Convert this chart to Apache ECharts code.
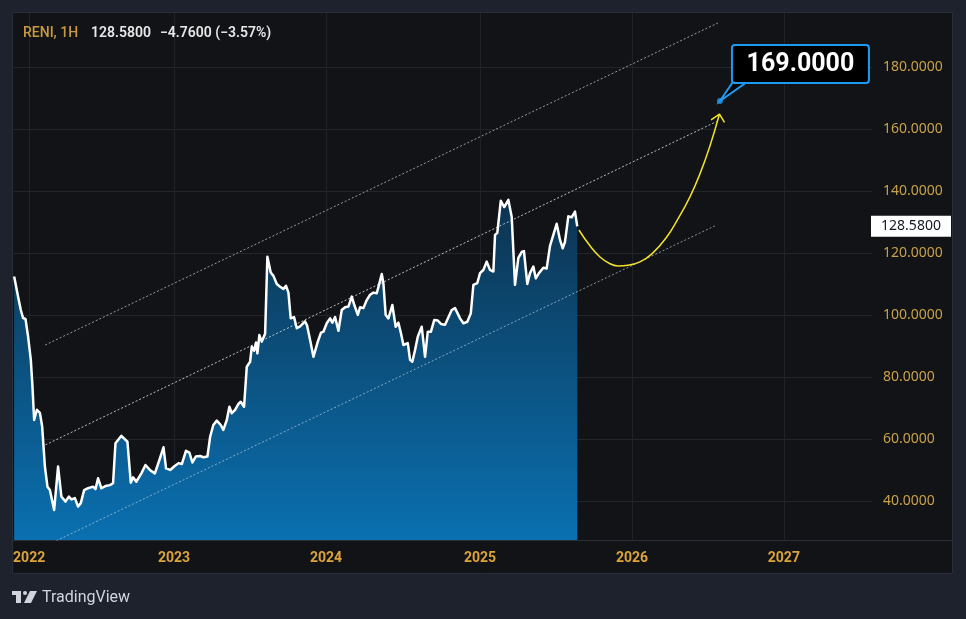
<!DOCTYPE html>
<html><head><meta charset="utf-8">
<script src="https://cdn.jsdelivr.net/npm/echarts@6/dist/echarts.min.js"></script>
<style>html,body{margin:0;padding:0;background:#1e222d;}#c{width:966px;height:619px;}</style>
</head><body><div id="c"></div><script>
// ---- data (x = decimal position on the time scale, y = price) ----
const dates = [2021.901,2021.927,2021.945,2021.960,2021.976,2021.993,2022.011,2022.022,2022.033,2022.051,
2022.071,2022.086,2022.104,2022.121,2022.137,2022.147,2022.165,2022.191,2022.213,2022.240,
2022.262,2022.279,2022.302,2022.323,2022.341,2022.363,2022.389,2022.422,2022.438,2022.455,
2022.477,2022.504,2022.533,2022.554,2022.570,2022.609,2022.649,2022.671,2022.686,2022.708,
2022.741,2022.768,2022.797,2022.830,2022.860,2022.887,2022.904,2022.931,2022.957,2022.986,
2023.008,2023.036,2023.058,2023.078,2023.100,2023.129,2023.150,2023.177,2023.195,2023.216,
2023.239,2023.265,2023.282,2023.305,2023.322,2023.338,2023.360,2023.382,2023.397,2023.419,
2023.437,2023.459,2023.470,2023.485,2023.498,2023.507,2023.520,2023.536,2023.558,2023.573,
2023.595,2023.613,2023.635,2023.657,2023.679,2023.696,2023.712,2023.727,2023.749,2023.767,
2023.789,2023.822,2023.835,2023.855,2023.877,2023.888,2023.906,2023.927,2023.943,2023.965,
2023.987,2024.002,2024.020,2024.042,2024.064,2024.086,2024.108,2024.130,2024.147,2024.170,
2024.185,2024.207,2024.229,2024.251,2024.273,2024.295,2024.310,2024.328,2024.339,2024.354,
2024.372,2024.398,2024.420,2024.438,2024.455,2024.471,2024.482,2024.500,2024.515,2024.530,
2024.548,2024.566,2024.592,2024.614,2024.632,2024.653,2024.675,2024.698,2024.719,2024.746,
2024.790,2024.812,2024.845,2024.867,2024.893,2024.916,2024.933,2024.959,2024.977,2024.999,
2025.021,2025.043,2025.065,2025.076,2025.091,2025.114,2025.137,2025.164,2025.186,2025.208,
2025.230,2025.252,2025.267,2025.289,2025.307,2025.329,2025.345,2025.366,2025.395,2025.417,
2025.439,2025.461,2025.483,2025.505,2025.523,2025.538,2025.560,2025.582,2025.604,2025.619];
const prices = [112.4,105.9,101.6,99.0,98.7,93.0,85.5,76.9,66.1,69.4,
68.4,64.0,51.1,44.6,43.5,43.9,37.1,51.1,41.4,39.8,
41.4,40.5,40.9,38.2,39.3,43.5,44.1,44.6,43.8,47.3,
44.1,44.8,45.1,45.7,58.6,61.0,59.1,45.9,47.6,46.2,
48.9,51.6,50.0,48.9,53.2,57.3,50.5,50.0,51.1,52.2,
51.9,56.2,55.6,52.4,54.3,54.5,54.1,54.3,60.7,64.5,
65.9,64.5,62.9,66.1,70.4,68.3,69.4,71.3,72.0,70.4,
83.3,84.9,89.8,88.5,91.1,87.6,93.5,91.4,93.9,118.8,
113.7,112.6,110.0,109.1,108.4,109.4,107.2,98.9,99.3,95.7,
96.3,97.9,96.6,91.9,86.5,86.0,91.4,94.3,94.6,97.3,
98.9,97.5,99.3,94.9,101.6,102.5,102.7,105.9,103.2,100.0,
102.5,102.2,104.8,106.5,107.2,107.0,109.7,113.2,110.2,100.0,
98.9,103.2,96.2,97.5,94.1,90.3,90.0,90.9,85.5,84.9,
88.7,93.0,96.2,86.5,94.6,94.6,98.4,98.2,97.1,96.8,
101.6,102.2,98.9,97.3,97.8,100.5,109.7,110.3,113.5,114.5,
117.2,114.5,114.0,125.8,126.5,136.8,134.8,137.1,131.7,109.7,
118.4,120.3,120.6,110.0,113.5,115.6,111.8,113.5,115.2,115.0,
122.3,125.8,129.4,124.2,121.5,123.6,131.8,131.5,133.34,128.58];
const yearLabels = ['2022', '2023', '2024', '2025', '2026', '2027'];
const yearTickPositions = [2022.0, 2022.957, 2023.960, 2024.977, 2025.980, 2026.983];
const priceTicks = [40, 60, 80, 100, 120, 140, 160, 180];
const channelTopX = [2022.106, 2026.548], channelTopY = [90.3, 194.2];
const channelMidX = [2022.108, 2026.539], channelMidY = [58.1, 162.4];
const channelLowX = [2022.108, 2026.539], channelLowY = [25.5, 129.0];
const forecastX = [2025.630,2025.703,2025.769,2025.835,2025.888,2025.954,2026.033,2026.112,2026.205,2026.284,2026.363,2026.429,2026.495,2026.558];
const forecastY = [127.4,122.3,118.7,116.5,115.8,116.0,117.1,119.7,124.8,131.0,138.1,145.5,154.5,164.8];
const arrowX = [2026.502, 2026.558, 2026.591], arrowY = [162.9, 164.8, 162.1];
const targetX = 2026.561, targetPrice = 169.0;
const symbolName = 'RENI, 1H';
const lastPrice = 128.58, priceChange = -4.76, changePct = -3.57;

const zip = (xs, ys) => xs.map((x, i) => [x, ys[i]]);
const signed = (v, d) => (v < 0 ? '\u2212' : '+') + Math.abs(v).toFixed(d);

const chart = echarts.init(document.getElementById('c'));
const dotted = (color) => ({ color: color, width: 1, type: [2, 2] });
const yearLabelOf = v => {
  let best = 0;
  yearTickPositions.forEach((p, i) => { if (Math.abs(p - v) < Math.abs(yearTickPositions[best] - v)) best = i; });
  return yearLabels[best];
};
const option = {
  backgroundColor: '#1e222d',
  animation: false,
  grid: { left: 14, right: 94, top: 13, bottom: 79 },
  xAxis: {
    type: 'value', min: 2021.9, max: 2027.565,
    axisLine: { show: false },
    axisTick: { show: false, customValues: yearTickPositions },
    splitLine: { show: true, lineStyle: { color: '#1f2229', width: 1 } },
    axisLabel: { customValues: yearTickPositions, formatter: yearLabelOf, color: '#dca33a',
      fontFamily: 'Roboto', fontWeight: 'bold', fontSize: 14, margin: 11 }
  },
  yAxis: {
    type: 'value', position: 'right', min: 27.4, max: 197.4,
    axisLine: { show: false },
    axisTick: { show: false, customValues: priceTicks },
    splitLine: { show: true, lineStyle: { color: '#22252c', width: 1 } },
    axisLabel: { customValues: priceTicks, formatter: v => v.toFixed(4), color: '#c9a14a',
      fontFamily: 'Noto Sans', fontSize: 14, margin: 11, align: 'left' }
  },
  series: [
    { type: 'line', data: zip(dates, prices), showSymbol: false, z: 1,
      lineStyle: { width: 0 },
      areaStyle: { origin: 'start', opacity: 1, color: new echarts.graphic.LinearGradient(0, 0, 0, 1, [
        { offset: 0, color: '#0d3350' }, { offset: 1, color: '#0a70b0' }]) } },
    { type: 'line', data: zip(channelTopX, channelTopY), showSymbol: false, z: 2, lineStyle: dotted('rgba(210,210,210,0.7)') },
    { type: 'line', data: zip(channelMidX, channelMidY), showSymbol: false, z: 2, lineStyle: dotted('rgba(230,230,230,0.8)') },
    { type: 'line', data: zip(channelLowX, channelLowY), showSymbol: false, z: 2, lineStyle: dotted('rgba(200,215,230,0.65)') },
    { type: 'line', data: zip(dates, prices), showSymbol: false, z: 3,
      lineStyle: { color: '#ffffff', width: 2.5, join: 'round' } },
    { type: 'line', data: zip(forecastX, forecastY), showSymbol: false, smooth: 0.45, z: 3,
      lineStyle: { color: '#f2e22a', width: 1.5 } },
    { type: 'line', data: zip(arrowX, arrowY), showSymbol: false, z: 3,
      lineStyle: { color: '#f2e22a', width: 1.5 } },
    { type: 'scatter', data: [[targetX, targetPrice]], symbol: 'circle', symbolSize: 6, z: 6,
      itemStyle: { color: '#1e9bf0' } }
  ]
};
chart.setOption(option);

const tp = chart.convertToPixel({ xAxisIndex: 0, yAxisIndex: 0 }, [targetX, targetPrice]);
const lp = chart.convertToPixel({ yAxisIndex: 0 }, lastPrice);
const bx = tp[0] + 12, by = tp[1] - 56;
chart.setOption({
  graphic: [
    { type: 'rect', z: -10, silent: true, shape: { x: 12.5, y: 12.5, width: 940, height: 561 },
      style: { fill: '#111317', stroke: '#2a2e39', lineWidth: 1 } },
    { type: 'line', z: -5, shape: { x1: 13, y1: 540.5, x2: 952, y2: 540.5 }, style: { stroke: '#2a2e39', lineWidth: 1 } },
    { type: 'text', z: 50, x: 23, y: 33, style: { text: symbolName, fill: '#c99a3e', font: '500 14px Roboto', verticalAlign: 'middle' } },
    { type: 'text', z: 50, x: 91, y: 33, style: { text: lastPrice.toFixed(4), fill: '#e8e8e8', font: '600 14px Roboto', verticalAlign: 'middle' } },
    { type: 'text', z: 50, x: 160, y: 33, style: { text: signed(priceChange, 4) + ' (' + signed(changePct, 2) + '%)', fill: '#e8e8e8', font: '600 14px Roboto', verticalAlign: 'middle' } },
    // last price label
    { type: 'rect', z: 50, shape: { x: 871, y: lp - 10.5, width: 80, height: 21 }, style: { fill: '#ffffff' } },
    { type: 'text', z: 51, x: 911, y: lp, style: { text: lastPrice.toFixed(4), fill: '#131722', font: '14px Noto Sans', align: 'center', verticalAlign: 'middle' } },
    // callout
    { type: 'polygon', z: 40, shape: { points: [[tp[0], tp[1]], [bx + 1, by + 37], [bx + 15, by + 37]] }, style: { fill: '#000000', stroke: '#1e9bf0', lineWidth: 2 } },
    { type: 'rect', z: 41, shape: { x: bx, y: by, width: 137, height: 38, r: 3 }, style: { fill: '#000000', stroke: '#1e9bf0', lineWidth: 2 } },
    { type: 'text', z: 42, x: bx + 68.5, y: by + 19.5, style: { text: targetPrice.toFixed(4), fill: '#ffffff', font: 'bold 25px Roboto', align: 'center', verticalAlign: 'middle' } },
    // TradingView logo
    { type: 'rect', z: 50, shape: { x: 12, y: 591, width: 9, height: 4 }, style: { fill: '#d1d4dc' } },
    { type: 'rect', z: 50, shape: { x: 16, y: 591, width: 5, height: 12 }, style: { fill: '#d1d4dc' } },
    { type: 'circle', z: 50, shape: { cx: 25, cy: 593, r: 2 }, style: { fill: '#d1d4dc' } },
    { type: 'polygon', z: 50, shape: { points: [[30, 591], [37, 591], [31, 603], [24, 603]] }, style: { fill: '#d1d4dc' } },
    { type: 'text', z: 50, x: 42, y: 598, style: { text: 'TradingView', fill: '#d1d4dc', font: '16px Roboto', verticalAlign: 'middle' } }
  ]
});
</script></body></html>
